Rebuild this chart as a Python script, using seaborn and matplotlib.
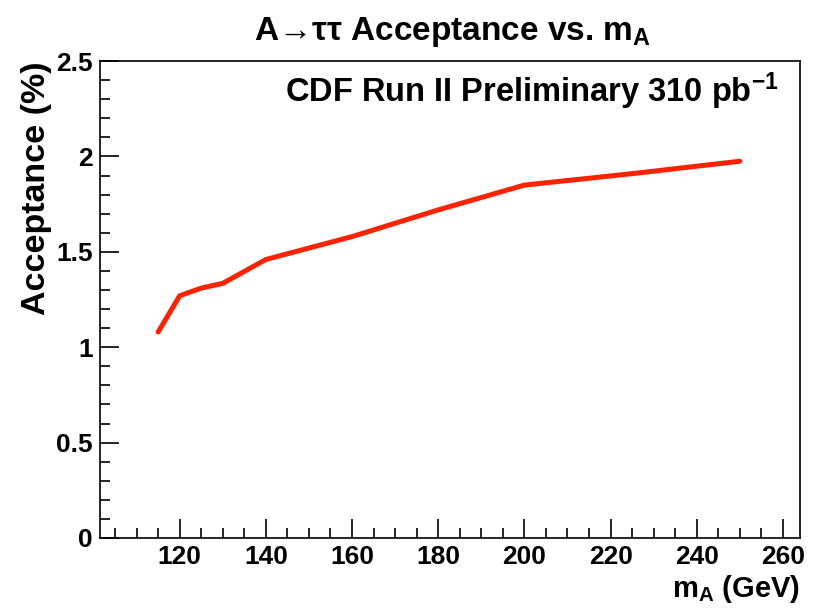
import matplotlib
matplotlib.use("Agg")
import matplotlib.pyplot as plt
import seaborn as sns
import pandas as pd
from matplotlib.ticker import MultipleLocator

# Data
mass_gev = [115, 120, 125, 130, 140, 150, 160, 170, 180, 190, 200, 225, 250]
acceptance_pct = [1.08, 1.27, 1.31, 1.335, 1.46, 1.52, 1.58, 1.65, 1.72, 1.785, 1.85, 1.91, 1.975]

title_text = "A\u2192\u03c4\u03c4 Acceptance vs. m$_{A}$"
xlabel_text = "m$_{A}$ (GeV)"
ylabel_text = "Acceptance (%)"
note_text = "CDF Run II Preliminary 310 pb$^{-1}$"
xtick_vals = [120, 140, 160, 180, 200, 220, 240, 260]
ytick_vals = [0, 0.5, 1, 1.5, 2, 2.5]
ytick_labels = ["0", "0.5", "1", "1.5", "2", "2.5"]

sns.set_theme(style="white")
plt.rcParams["font.family"] = ["Liberation Sans", "DejaVu Sans"]
plt.rcParams["font.weight"] = "bold"
plt.rcParams["mathtext.fontset"] = "custom"
plt.rcParams["mathtext.rm"] = "Liberation Sans:bold"
plt.rcParams["mathtext.it"] = "Liberation Sans:bold"
plt.rcParams["mathtext.bf"] = "Liberation Sans:bold"
plt.rcParams["mathtext.default"] = "rm"
for key in ["text.color", "axes.labelcolor", "xtick.color", "ytick.color", "axes.edgecolor"]:
    plt.rcParams[key] = "black"

df = pd.DataFrame({"mass": mass_gev, "acc": acceptance_pct})

fig = plt.figure(figsize=(8.18, 6.11), dpi=100)
ax = fig.add_axes([0.1222, 0.1195, 0.856, 0.7805])

sns.lineplot(data=df, x="mass", y="acc", ax=ax, color="#ff2200", linewidth=3.6)

ax.set_xlim(101.5, 264)
ax.set_ylim(0, 2.5)
ax.xaxis.set_minor_locator(MultipleLocator(5))
ax.yaxis.set_minor_locator(MultipleLocator(0.1))
ax.set_xticks(xtick_vals)
ax.set_xticklabels([str(v) for v in xtick_vals])
ax.set_yticks(ytick_vals)
ax.set_yticklabels(ytick_labels)

ax.tick_params(which="both", direction="in", top=False, right=False,
               bottom=True, left=True, color="black", width=1.2)
ax.tick_params(which="major", length=13.5, labelsize=19, pad=5)
ax.tick_params(which="minor", length=7)
for lab in ax.get_xticklabels() + ax.get_yticklabels():
    lab.set_fontweight("bold")

for s in ax.spines.values():
    s.set_visible(True)
    s.set_color("black")
    s.set_linewidth(1.2)

ax.set_xlabel(xlabel_text, loc="right", fontsize=21, fontweight="bold", labelpad=3)
ax.set_ylabel(ylabel_text, loc="top", fontsize=24.5, fontweight="bold", labelpad=3)
fig.text(0.553, 0.935, title_text, ha="center", va="baseline", fontsize=24, fontweight="bold")
ax.text(0.97, 0.937, note_text, transform=ax.transAxes, ha="right", va="center",
        fontsize=23.5, fontweight="bold")

fig.savefig("out.png", dpi=100, facecolor="white")
